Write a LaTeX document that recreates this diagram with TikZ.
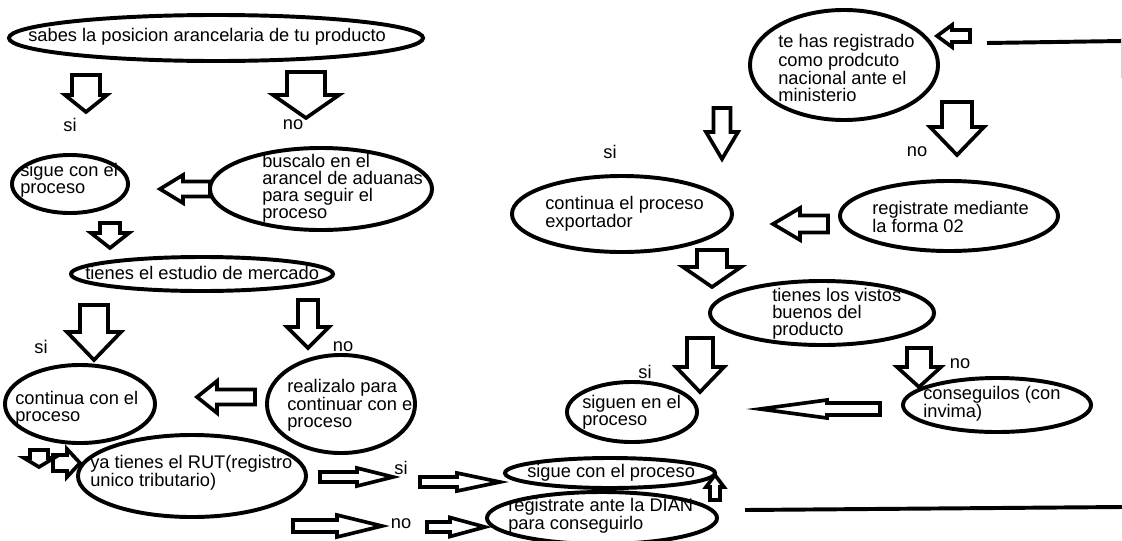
\documentclass[tikz,border=0pt]{standalone}
\usepackage{fontspec}
\setmainfont{Liberation Sans}
\usetikzlibrary{shapes.geometric}

\tikzset{
  oval/.style={draw=black, line width=2.8pt, ellipse, inner sep=0pt},
  ovalsize/.style 2 args={minimum width=#1*0.05cm, minimum height=#2*0.05cm},
  txt/.style={anchor=west, align=left, inner sep=0pt, font=\fontsize{13}{12.1}\selectfont},
  lbl/.style={inner sep=0pt, font=\fontsize{13}{12.1}\selectfont},
  blk/.style={draw=black, line width=2.6pt, line join=miter},
  rule/.style={draw=black, line width=2.8pt}
}

% tail x, tail y, angle, length, shaft half width, head half width, head length
\newcommand{\barrow}[7]{%
  \begin{scope}[shift={(#1,#2)},rotate=#3]
    \draw[blk] (0,-#5) -- (#4-#7,-#5) -- (#4-#7,-#6) -- (#4,0) -- (#4-#7,#6) -- (#4-#7,#5) -- (0,#5) -- cycle;
  \end{scope}}

\begin{document}
\begin{tikzpicture}[x=0.025cm,y=-0.025cm]
\useasboundingbox (0,0) rectangle (1122,540);

% left half
\node[oval, ovalsize={207}{23}] (posicion) at (216,38) {};
\node[txt] (tposicion) at (28,37) {sabes la posicion arancelaria de tu producto};
\barrow{86}{75}{-90}{37}{14}{21}{17}
\barrow{306}{72}{-90}{46}{19}{33}{23}
\node[lbl] (si1) at (70,125) {si};
\node[lbl] (no1) at (293,125) {no};

\node[oval, ovalsize={58}{29}] (sigue) at (70,184) {};
\node[txt] (tsigue) at (20,180) {sigue con el\\proceso};
\node[oval, ovalsize={111}{41}] (buscalo) at (321,189) {};
\node[txt] (tbuscalo) at (262,188) {buscalo en el\\arancel de aduanas\\para seguir el\\proceso};
\barrow{210}{189}{180}{50}{7.5}{14}{23}
\barrow{110}{223}{-90}{25}{10}{19}{15}

\node[oval, ovalsize={131}{17}] (estudio) at (202,274) {};
\node[txt] (testudio) at (85,273) {tienes el estudio de mercado};
\barrow{94}{305}{-90}{55}{14}{27}{28}
\barrow{308}{300}{-90}{48}{10}{21}{21}
\node[lbl] (si2) at (41,347) {si};
\node[lbl] (no2) at (343,347) {no};

\node[oval, ovalsize={75}{39}] (continua) at (80,404) {};
\node[txt] (tcontinua) at (15,408) {continua con el\\proceso};
\node[oval, ovalsize={74}{49}] (realizalo) at (341,404) {};
\node[txt] (trealizalo) at (287,405) {realizalo para\\continuar con el\\proceso};
\barrow{255}{397}{180}{58}{7.5}{16}{20}

\barrow{39}{450}{-90}{17}{9}{15}{9}
\barrow{53}{463}{0}{27}{8}{14}{13}
\node[oval, ovalsize={114}{41}] (rut) at (192,476) {};
\node[txt] (trut) at (90,473) {ya tienes el RUT(registro\\unico tributario)};

\barrow{320}{477}{0}{73}{5}{9}{36}
\node[lbl] (si3) at (401,468) {si};
\barrow{420}{482}{0}{80}{5}{9}{43}
\barrow{293}{526}{0}{89}{6}{11}{45}
\node[lbl] (no3) at (401,524) {no};
\barrow{427}{527}{0}{58}{5}{9.5}{35}

\node[oval, ovalsize={105}{15}] (siguecon) at (610,473) {};
\node[txt] (tsiguecon) at (527,473) {sigue con el proceso};
\node[oval, ovalsize={115}{26}] (dian) at (602,518) {};
\node[txt] (tdian) at (508,516) {registrate ante la DIAN\\para conseguirlo};
\barrow{715}{500}{90}{25}{5}{9}{12}

% right half
\node[oval, ovalsize={94}{55}] (registrado) at (844,65) {};
\node[txt] (tregistrado) at (778,68) {te has registrado\\como prodcuto\\nacional ante el\\ministerio};
\barrow{970}{36}{180}{33}{6}{11}{15}
\coordinate (top1) at (987,43);
\coordinate (top2) at (1122,41);
\draw[rule] (top1) -- (top2);
\draw[gray!35, line width=0.6pt] (1121,38) -- (1121,78);

\barrow{722}{108}{-90}{51}{8.5}{16}{27}
\barrow{957}{102}{-90}{53}{15}{27}{28}
\node[lbl] (si4) at (610,152) {si};
\node[lbl] (no4) at (917,152) {no};

\node[oval, ovalsize={110}{38}] (exportador) at (622,214) {};
\node[txt] (texportador) at (545,214) {continua el proceso\\exportador};
\node[oval, ovalsize={109}{35}] (forma) at (949,216) {};
\node[txt] (tforma) at (872,217) {registrate mediante\\la forma 02};
\barrow{828}{224}{180}{55}{8.5}{16}{27}
\barrow{712}{250}{-90}{37}{15}{29}{20}

\node[oval, ovalsize={112}{32}] (vistos) at (822,313) {};
\node[txt] (tvistos) at (772,314) {tienes los vistos\\buenos del\\producto};
\barrow{700}{338}{-90}{54}{13}{24}{25}
\barrow{919}{348}{-90}{39}{12}{22}{20}
\node[lbl] (si5) at (645,372) {si};
\node[lbl] (no5) at (960,364) {no};

\node[oval, ovalsize={65}{30}] (siguen) at (632,412) {};
\node[txt] (tsiguen) at (582,412) {siguen en el\\proceso};
\node[oval, ovalsize={94}{27}] (invima) at (997,405) {};
\node[txt] (tinvima) at (923,404) {conseguilos (con\\invima)};
\barrow{880}{409}{180}{120}{6}{9}{67}

\coordinate (bot1) at (745,510);
\coordinate (bot2) at (1122,507);
\draw[rule] (bot1) -- (bot2);

\end{tikzpicture}
\end{document}
